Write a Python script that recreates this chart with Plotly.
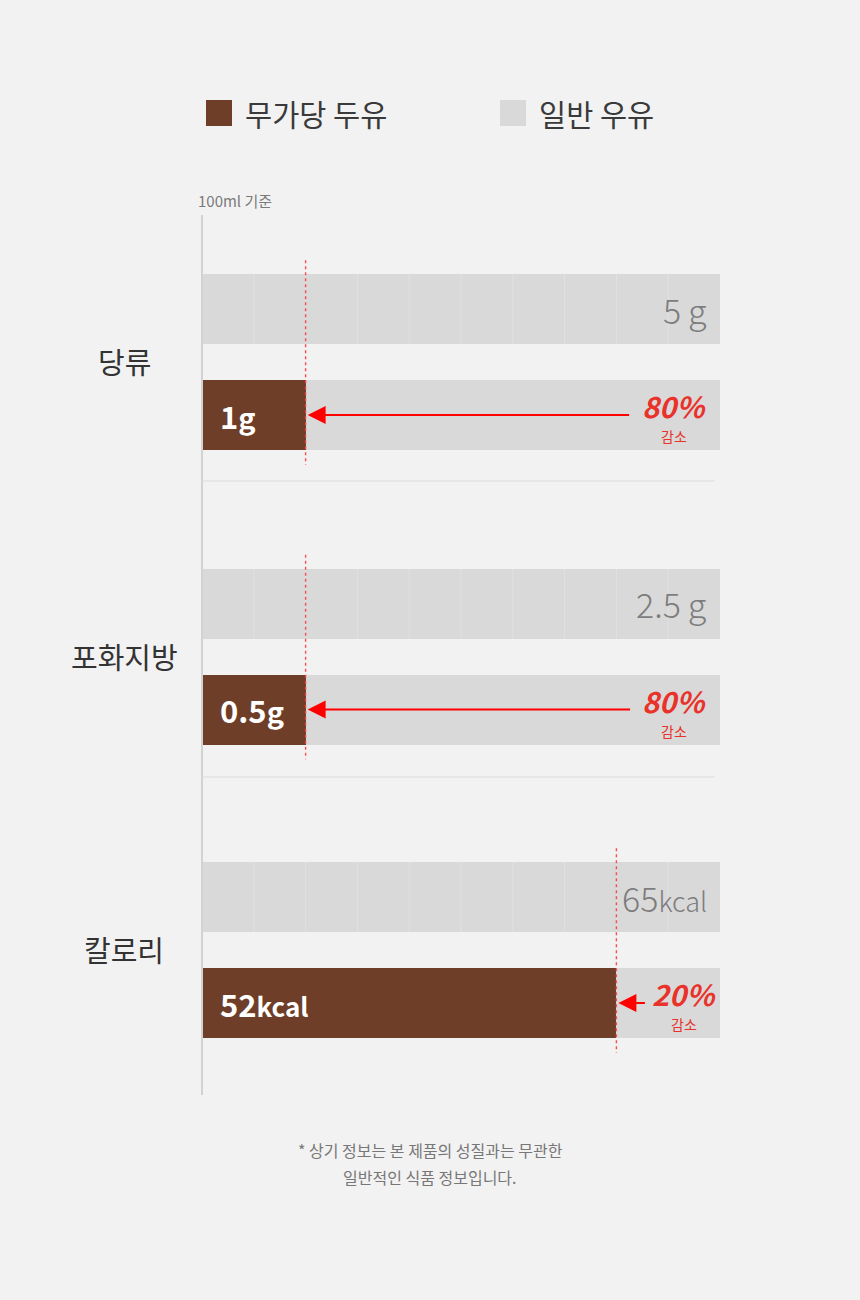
import plotly.graph_objects as go

# ---------------- data ----------------
categories = ["당류", "포화지방", "칼로리"]
units = ["g", "g", "kcal"]
milk_values = [5, 2.5, 65]          # 일반 우유
soy_values = [1, 0.5, 52]           # 무가당 두유
milk_labels = ["5", "2.5", "65"]
soy_labels = ["1", "0.5", "52"]
series_names = ["무가당 두유", "일반 우유"]
basis_label = "100ml 기준"
footnote = ["* 상기 정보는 본 제품의 성질과는 무관한", "일반적인 식품 정보입니다."]

# ---------------- style / layout constants ----------------
W, H = 860, 1300
FONT = "Noto Sans CJK KR"
BG = "#f2f2f2"
BROWN = "#6e3e28"
GRAY = "#d9d9d9"
RED_TXT = "#e8322a"
X0, X1 = 202, 720
centers = [362, 656.5, 950]
UNIT = 106
pct_shift = [-12, -12, -2]
arrow_tail = [325, 326, 30]
rows = ["일반 우유", "무가당 두유"]

fig = go.Figure()

def px_y(p):
    return 1 - p / H

for i in range(3):
    sfx = "" if i == 0 else str(i + 1)
    xa, ya = "x" + sfx, "y" + sfx
    # gray full bars (both rows)
    fig.add_trace(go.Bar(
        x=[milk_values[i], milk_values[i]], y=rows, orientation="h",
        marker=dict(color=GRAY, line=dict(width=0)), width=0.66,
        showlegend=False, hoverinfo="skip", xaxis=xa, yaxis=ya))
    # brown bar
    fig.add_trace(go.Bar(
        x=[soy_values[i]], y=[rows[1]], orientation="h",
        marker=dict(color=BROWN, line=dict(width=0)), width=0.66,
        showlegend=False, hoverinfo="skip", xaxis=xa, yaxis=ya))

    c = centers[i]
    fig.layout["xaxis" + sfx] = dict(
        domain=[X0 / W, X1 / W], range=[0, milk_values[i]], visible=False,
        fixedrange=True, anchor=ya)
    fig.layout["yaxis" + sfx] = dict(
        domain=[px_y(c + UNIT), px_y(c - UNIT)], range=[1.5, -0.5],
        categoryorder="array", categoryarray=rows, visible=False,
        fixedrange=True, anchor=xa)

    # faint grid lines inside the top gray bar
    for k in range(1, 10):
        fig.add_shape(type="line", xref=xa, yref=ya,
                      x0=milk_values[i] * k / 10, x1=milk_values[i] * k / 10,
                      y0=-0.33, y1=0.33,
                      line=dict(color="rgba(255,255,255,0.22)", width=1))
    # dotted red reference line
    fig.add_shape(type="line", xref=xa, yref=ya,
                  x0=soy_values[i], x1=soy_values[i], y0=-0.46, y1=1.47,
                  line=dict(color="rgba(245,70,70,0.95)", width=1.4, dash="dot"))

    is_g = units[i] == "g"
    # gray value label
    fig.add_annotation(
        xref=xa, yref=ya, x=milk_values[i], y=rows[0], xanchor="right",
        xshift=-11, showarrow=False,
        text=f"{milk_labels[i]}<span style='font-size:{34 if is_g else 27}px'>{chr(8201) if is_g else ''}{units[i]}</span>",
        font=dict(family=FONT, size=34, color="#7d7d7d", weight=300))
    # brown value label
    fig.add_annotation(
        xref=xa, yref=ya, x=0, y=rows[1], xanchor="left", xshift=16,
        showarrow=False,
        text=f"{soy_labels[i]}<span style='font-size:{29 if is_g else 26}px'>{units[i]}</span>",
        font=dict(family=FONT, size=31, color="white", weight=600))
    # arrow
    pct = round((1 - soy_values[i] / milk_values[i]) * 100)
    fig.add_annotation(
        xref=xa, yref=ya, x=soy_values[i], y=rows[1], ax=arrow_tail[i], ay=0,
        showarrow=True, arrowhead=2, arrowsize=1.8, arrowwidth=2,
        arrowcolor="#ff0000", standoff=2, text="")
    # percent label
    fig.add_annotation(
        xref=xa, yref=ya, x=milk_values[i], y=rows[1], xanchor="right",
        yanchor="middle", xshift=pct_shift[i], yshift=10, showarrow=False,
        text=f"<b><i>{pct}%</i></b>",
        font=dict(family=FONT, size=29, color=RED_TXT))
    fig.add_annotation(
        xref=xa, yref=ya, x=milk_values[i], y=rows[1], xanchor="center",
        yanchor="middle", xshift=pct_shift[i] - 34, yshift=-21, showarrow=False,
        text="감소", font=dict(family=FONT, size=14, color=RED_TXT))

    # category label
    fig.add_annotation(
        xref="paper", yref="paper", x=124 / W, y=px_y(c - 1),
        xanchor="center", yanchor="middle", showarrow=False,
        text=categories[i], font=dict(family=FONT, size=29, color="#333333"))

# vertical axis line
fig.add_shape(type="line", xref="paper", yref="paper",
              x0=X0 / W, x1=X0 / W, y0=px_y(1095), y1=px_y(215),
              line=dict(color="#d2d2d2", width=2))
# separators
for sy in [481, 777]:
    fig.add_shape(type="line", xref="paper", yref="paper",
                  x0=X0 / W, x1=715 / W, y0=px_y(sy), y1=px_y(sy),
                  line=dict(color="#dcdcdc", width=1))

# legend (manual)
leg_x = [206, 500]
leg_colors = [BROWN, GRAY]
for lx, col, name in zip(leg_x, leg_colors, series_names):
    fig.add_shape(type="rect", xref="paper", yref="paper",
                  x0=lx / W, x1=(lx + 26) / W, y0=px_y(126), y1=px_y(100),
                  fillcolor=col, line=dict(width=0))
    fig.add_annotation(xref="paper", yref="paper", x=(lx + 37) / W, y=px_y(113),
                       xanchor="left", yanchor="middle", showarrow=False,
                       text=name, font=dict(family=FONT, size=29.5, color="#3a3a3a"))

# basis label
fig.add_annotation(xref="paper", yref="paper", x=196 / W, y=px_y(200),
                   xanchor="left", yanchor="middle", showarrow=False,
                   text=basis_label, font=dict(family=FONT, size=15, color="#7a7a7a"))

# footnote
for j, line in enumerate(footnote):
    fig.add_annotation(xref="paper", yref="paper", x=430 / W, y=px_y(1150 + 27 * j),
                       xanchor="center", yanchor="middle", showarrow=False,
                       text=line, font=dict(family=FONT, size=16, color="#777777"))

fig.update_layout(
    width=W, height=H, margin=dict(l=0, r=0, t=0, b=0),
    paper_bgcolor=BG, plot_bgcolor="rgba(0,0,0,0)",
    barmode="overlay", bargap=0, showlegend=False,
    font=dict(family=FONT),
)

fig.write_html("out.html", config={"displayModeBar": False})

# remove default page margin so the figure sits at the window's corner
with open("out.html", encoding="utf-8") as f:
    html = f.read()
html = html.replace("<head>", "<head><style>html,body{margin:0;padding:0;background:#f2f2f2;}</style>", 1)
with open("out.html", "w", encoding="utf-8") as f:
    f.write(html)
